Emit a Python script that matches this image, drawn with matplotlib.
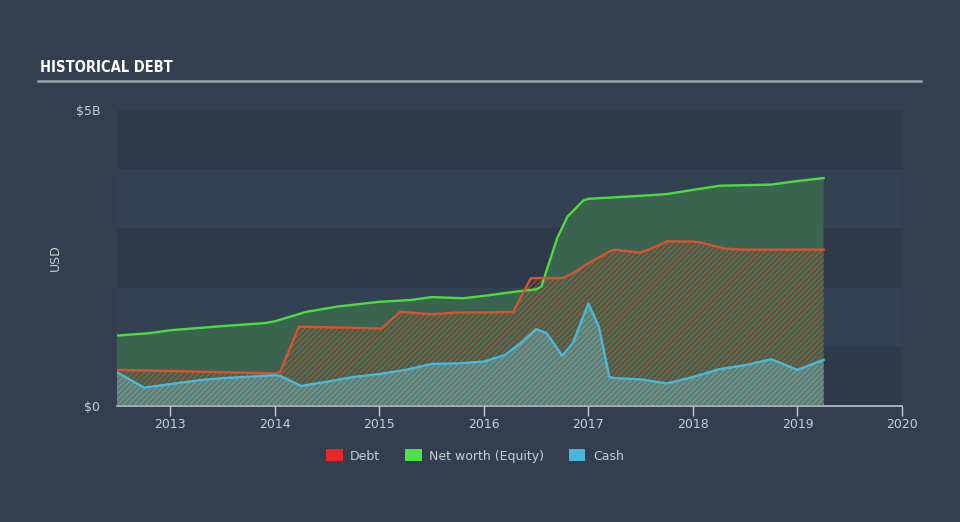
import matplotlib
matplotlib.use("Agg")
import matplotlib.pyplot as plt
import numpy as np
from matplotlib.patches import Patch

# ---- data (USD billions) ----
equity_t = [2012.49, 2012.8, 2013.0, 2013.5, 2013.9, 2014.0, 2014.3, 2014.6, 2015.0, 2015.3,
            2015.5, 2015.8, 2016.0, 2016.3, 2016.5, 2016.55, 2016.7, 2016.8, 2016.95, 2017.0,
            2017.5, 2017.75, 2018.0, 2018.25, 2018.5, 2018.75, 2019.0, 2019.25]
equity_v = [1.19, 1.23, 1.28, 1.35, 1.40, 1.43, 1.59, 1.68, 1.76, 1.79,
            1.84, 1.82, 1.86, 1.93, 1.97, 2.02, 2.83, 3.2, 3.47, 3.50,
            3.55, 3.58, 3.65, 3.72, 3.73, 3.74, 3.80, 3.85]

debt_t = [2012.49, 2013.0, 2013.5, 2014.0, 2014.05, 2014.23, 2014.5, 2014.75, 2015.02, 2015.2,
          2015.5, 2015.75, 2016.0, 2016.28, 2016.45, 2016.5, 2016.75, 2016.85, 2017.0, 2017.2,
          2017.25, 2017.5, 2017.6, 2017.75, 2018.0, 2018.1, 2018.3, 2018.5, 2019.0, 2019.25]
debt_v = [0.61, 0.59, 0.57, 0.55, 0.57, 1.34, 1.33, 1.32, 1.31, 1.59,
          1.55, 1.58, 1.58, 1.59, 2.16, 2.16, 2.16, 2.24, 2.41, 2.61,
          2.64, 2.59, 2.66, 2.78, 2.78, 2.75, 2.66, 2.64, 2.64, 2.64]

cash_t = [2012.49, 2012.75, 2013.0, 2013.3, 2013.5, 2014.0, 2014.05, 2014.25, 2014.5, 2014.75,
          2015.0, 2015.25, 2015.5, 2015.75, 2016.0, 2016.2, 2016.35, 2016.5, 2016.6, 2016.75,
          2016.85, 2017.0, 2017.1, 2017.2, 2017.25, 2017.5, 2017.75, 2018.0, 2018.25, 2018.5,
          2018.75, 2019.0, 2019.25]
cash_v = [0.57, 0.31, 0.37, 0.44, 0.47, 0.52, 0.51, 0.34, 0.41, 0.49,
          0.54, 0.61, 0.71, 0.72, 0.75, 0.86, 1.06, 1.30, 1.23, 0.85,
          1.06, 1.73, 1.34, 0.49, 0.47, 0.45, 0.38, 0.49, 0.62, 0.69,
          0.79, 0.61, 0.78]

year_ticks = [2013, 2014, 2015, 2016, 2017, 2018, 2019, 2020]
legend_labels = ["Debt", "Net worth (Equity)", "Cash"]

# ---- style ----
BG = "#333f4f"
BAND_DARK = "#2e3a4a"
BAND_LIGHT = "#334252"
TXT = "#c9cdd2"
GREEN = "#4ddb3f"
GREEN_FILL = "#3a6450"
RED_LINE = "#d8532e"
RED_HATCH = "#c0522e"
BLUE = "#4ab9d9"

B = 1e9
plt.rcParams["hatch.linewidth"] = 0.7

fig = plt.figure(figsize=(9.6, 5.22), dpi=100, facecolor=BG)
ax = fig.add_axes([117/960, 1-406/522, 785/960, 296/522])
ax.set_facecolor(BG)
ax.set_xlim(2012.49, 2020.0)
ax.set_ylim(0, 5*B)

# horizontal bands
for i in range(5):
    ax.axhspan(i*B, (i+1)*B, color=BAND_DARK if i % 2 == 0 else BAND_LIGHT, lw=0, zorder=0)

et = np.array(equity_t); ev = np.array(equity_v)*B
dt = np.array(debt_t); dv = np.array(debt_v)*B
ct = np.array(cash_t); cv = np.array(cash_v)*B

# equity
ax.fill_between(et, 0, ev, facecolor=GREEN_FILL, lw=0, zorder=1)
ax.plot(et, ev, color=GREEN, lw=1.7, zorder=5)

# debt hatched
ax.fill_between(dt, 0, dv, facecolor="none", edgecolor=RED_HATCH, hatch="//////", lw=0, zorder=2)
ax.plot(dt, dv, color=RED_LINE, lw=1.7, zorder=5)

# cash hatched
ax.fill_between(ct, 0, cv, facecolor="#7fa6a8", alpha=0.45, lw=0, zorder=3)
ax.fill_between(ct, 0, cv, facecolor="none", edgecolor="#6f9a9c", hatch="//////", lw=0, zorder=3)
ax.plot(ct, cv, color=BLUE, lw=1.7, zorder=6)

# axes styling
for s in ["top", "right", "left"]:
    ax.spines[s].set_visible(False)
ax.spines["bottom"].set_color("#c0c6cc")
ax.spines["bottom"].set_linewidth(1.2)
ax.set_xticks(year_ticks)
ax.set_xticklabels([str(y) for y in year_ticks])
ax.tick_params(axis="x", colors=TXT, labelcolor=TXT, labelsize=9, length=7, width=1, pad=2)
ax.set_yticks([0, 5*B])
ax.set_yticklabels(["$0", "$5B"])
ax.tick_params(axis="y", length=0, labelcolor=TXT, labelsize=9, pad=12)
ax.set_ylabel("USD", color=TXT, fontsize=9, labelpad=10)

# title and rule
fig.text(40/960, 1-68/522, "HISTORICAL DEBT", color="white", fontsize=10.5,
         fontweight="bold", va="center", ha="left", fontstretch="condensed")
fig.add_artist(plt.Line2D([38/960, 921/960], [1-81/522, 1-81/522], color="#9aa1a9", lw=1.8))

# legend
handles = [Patch(facecolor="#e8262b", edgecolor="none"),
           Patch(facecolor="#4de24a", edgecolor="none"),
           Patch(facecolor="#47b6da", edgecolor="none")]
leg = fig.legend(handles, legend_labels, loc="center", bbox_to_anchor=(475/960, 1-456/522),
                 ncol=3, frameon=False, fontsize=9, handlelength=1.3, handleheight=1.1,
                 columnspacing=2.0, handletextpad=0.6)
for t in leg.get_texts():
    t.set_color(TXT)

fig.savefig("out.png", dpi=100, facecolor=BG)
